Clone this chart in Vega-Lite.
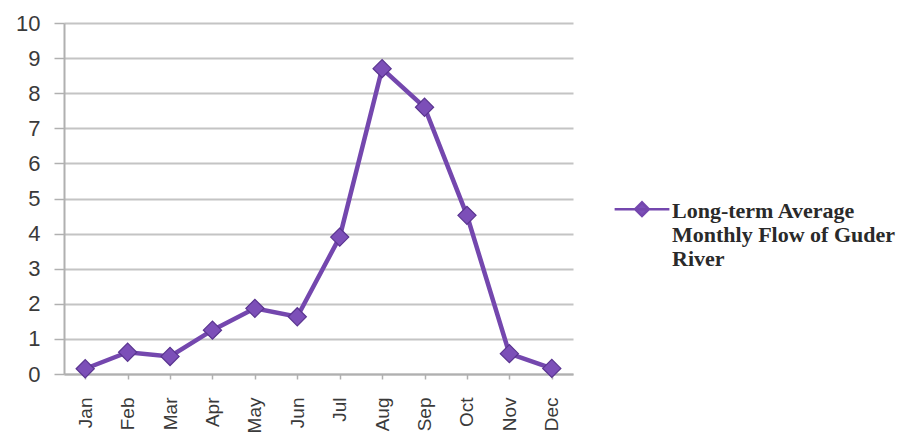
{
  "$schema": "https://vega.github.io/schema/vega-lite/v6.json",
  "width": 509,
  "height": 351,
  "autosize": "none",
  "padding": {"left": 64, "top": 23, "right": 327, "bottom": 68},
  "background": "white",
  "data": {
    "values": [
      {"month": "Jan", "flow": 0.15, "series": "Long-term Average Monthly Flow of Guder River"},
      {"month": "Feb", "flow": 0.62, "series": "Long-term Average Monthly Flow of Guder River"},
      {"month": "Mar", "flow": 0.5, "series": "Long-term Average Monthly Flow of Guder River"},
      {"month": "Apr", "flow": 1.25, "series": "Long-term Average Monthly Flow of Guder River"},
      {"month": "May", "flow": 1.87, "series": "Long-term Average Monthly Flow of Guder River"},
      {"month": "Jun", "flow": 1.63, "series": "Long-term Average Monthly Flow of Guder River"},
      {"month": "Jul", "flow": 3.9, "series": "Long-term Average Monthly Flow of Guder River"},
      {"month": "Aug", "flow": 8.7, "series": "Long-term Average Monthly Flow of Guder River"},
      {"month": "Sep", "flow": 7.6, "series": "Long-term Average Monthly Flow of Guder River"},
      {"month": "Oct", "flow": 4.52, "series": "Long-term Average Monthly Flow of Guder River"},
      {"month": "Nov", "flow": 0.58, "series": "Long-term Average Monthly Flow of Guder River"},
      {"month": "Dec", "flow": 0.16, "series": "Long-term Average Monthly Flow of Guder River"}
    ]
  },
  "config": {
    "view": {"stroke": null},
    "axis": {
      "labelFont": "Liberation Sans",
      "labelColor": "#3a3a3a",
      "domainColor": "#b0b0b0",
      "domainWidth": 2,
      "tickColor": "#b0b0b0",
      "tickWidth": 1.5,
      "title": null
    }
  },
  "encoding": {
    "x": {
      "field": "month",
      "type": "ordinal",
      "sort": null,
      "scale": {"type": "point", "padding": 0.5},
      "axis": {
        "labelAngle": -90,
        "labelFontSize": 19,
        "labelPadding": 18,
        "tickSize": 5,
        "grid": false
      }
    },
    "y": {
      "field": "flow",
      "type": "quantitative",
      "scale": {"domain": [0, 10], "nice": false},
      "axis": {
        "values": [0, 1, 2, 3, 4, 5, 6, 7, 8, 9, 10],
        "labelFontSize": 22,
        "labelPadding": 14,
        "tickSize": 10,
        "grid": true,
        "gridColor": "#c4c4c4",
        "gridWidth": 2
      }
    }
  },
  "layer": [
    {
      "mark": {"type": "line", "strokeWidth": 4.5, "color": "#7447ae"},
      "encoding": {
        "color": {
          "field": "series",
          "type": "nominal",
          "scale": {"range": ["#7447ae"]},
          "legend": {
            "orient": "none",
            "legendX": 549,
            "legendY": 149,
            "title": null,
            "symbolType": "M-1,0.3H1M-0.25,0.3L0,0.05L0.25,0.3L0,0.55Z",
            "symbolSize": 3000,
            "symbolStrokeWidth": 2.5,
            "symbolFillColor": "#7c4fb8",
            "symbolStrokeColor": "#7447ae",
            "labelExpr": "['Long-term Average', 'Monthly Flow of Guder', 'River']",
            "labelFont": "Liberation Serif",
            "labelFontSize": 22,
            "labelFontWeight": "bold",
            "labelLineHeight": 23,
            "labelColor": "#2a2a2a",
            "labelBaseline": "top",
            "labelOffset": 1,
            "labelLimit": 320
          }
        }
      }
    },
    {
      "mark": {
        "type": "point",
        "shape": "diamond",
        "filled": true,
        "size": 330,
        "color": "#7c4fb8",
        "stroke": "#5a3590",
        "strokeWidth": 1.2,
        "opacity": 1
      }
    }
  ]
}
